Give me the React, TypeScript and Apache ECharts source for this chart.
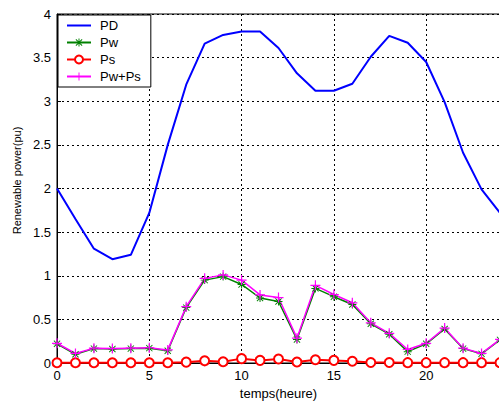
import React, { useEffect, useRef } from "react";
import * as echarts from "echarts";

const hours = [0,1,2,3,4,5,6,7,8,9,10,11,12,13,14,15,16,17,18,19,20,21,22,23,24];
const PD = [2.0,1.65,1.31,1.19,1.24,1.72,2.5,3.19,3.66,3.76,3.8,3.8,3.61,3.32,3.12,3.12,3.2,3.51,3.75,3.67,3.45,2.99,2.41,1.99,1.72];
const Pw = [0.22,0.1,0.165,0.16,0.165,0.17,0.14,0.635,0.95,0.99,0.9,0.745,0.705,0.27,0.855,0.76,0.67,0.45,0.33,0.13,0.22,0.39,0.165,0.105,0.265];
const Ps = [0.003,0.003,0.003,0.003,0.003,0.003,0.003,0.01,0.025,0.015,0.05,0.03,0.046,0.011,0.038,0.03,0.02,0.005,0.005,0.004,0.004,0.004,0.004,0.004,0.004];
const PwPs = [0.226,0.11,0.17,0.165,0.17,0.175,0.15,0.646,0.97,1.01,0.95,0.78,0.75,0.285,0.89,0.785,0.69,0.46,0.34,0.155,0.226,0.4,0.17,0.11,0.27];
const seriesNames = ["PD", "Pw", "Ps", "Pw+Ps"];
const xLabel = "temps(heure)";
const yLabel = "Renewable power(pu)";

const FONT = "'Liberation Sans', Arial, sans-serif";
const plusPath = "path://M4.4,0h1.2v4.4h4.4v1.2h-4.4v4.4h-1.2v-4.4h-4.4v-1.2h4.4z";
const starPath = "path://M4.4,0h1.2v4.4h4.4v1.2h-4.4v4.4h-1.2v-4.4h-4.4v-1.2h4.4zM1.5,0.7L5,4.2L8.5,0.7L9.3,1.5L5.8,5L9.3,8.5L8.5,9.3L5,5.8L1.5,9.3L0.7,8.5L4.2,5L0.7,1.5z";
const lineIcon = "path://M0,0h0.01v0.01h-0.01zM0,3.6h24v1.8h-24zM23.99,8.99h0.01v0.01h-0.01z";

const pair = (ys: number[]) => hours.map((h, i) => [h, ys[i]]);

export default function App() {
  const ref = useRef<HTMLDivElement>(null);
  useEffect(() => {
    document.body.style.margin = "0";
    const chart = echarts.init(ref.current!, null, { renderer: "svg" });
    chart.setOption({
      animation: false,
      backgroundColor: "#fff",
      textStyle: { fontFamily: FONT },
      grid: {
        left: 57, top: 14, right: -1, bottom: 40,
        containLabel: false, outerBoundsMode: "none",
        show: true, borderColor: "#000", borderWidth: 1, backgroundColor: "#fff",
      },
      legend: {
        orient: "vertical",
        left: 58, top: 15,
        padding: [3, 10, 3, 8],
        itemWidth: 24, itemHeight: 10, itemGap: 2,
        backgroundColor: "#fff",
        borderColor: "#000", borderWidth: 1,
        textStyle: { fontSize: 13, color: "#000", fontFamily: FONT, padding: [0, 0, 0, 4], lineHeight: 15 },
        data: [
          { name: seriesNames[0], icon: lineIcon, itemStyle: { color: "#0000ff" } },
          { name: seriesNames[1] },
          { name: seriesNames[2] },
          { name: seriesNames[3] },
        ],
      },
      xAxis: {
        type: "value", min: 0, max: 24, interval: 5,
        name: xLabel, nameLocation: "middle", nameGap: 24,
        nameTextStyle: { fontSize: 13, color: "#000", fontFamily: FONT },
        axisLine: { show: true, lineStyle: { color: "#000", width: 1 } },
        axisTick: { show: true, inside: true, length: 4, lineStyle: { color: "#000" } },
        axisLabel: { fontSize: 13, color: "#000", margin: 6, fontFamily: FONT, showMaxLabel: false },
        splitLine: { show: true, lineStyle: { color: "#000", type: [2, 3], width: 1 } },
      },
      yAxis: {
        type: "value", min: 0, max: 4, interval: 0.5,
        name: yLabel, nameLocation: "middle", nameGap: 32,
        nameTextStyle: { fontSize: 11, color: "#000", fontFamily: FONT, padding: [0, 0, 0, 16] },
        axisLine: { show: true, lineStyle: { color: "#000", width: 1 } },
        axisTick: { show: true, inside: true, length: 4, lineStyle: { color: "#000" } },
        axisLabel: { fontSize: 13, color: "#000", margin: 6, fontFamily: FONT },
        splitLine: { show: true, lineStyle: { color: "#000", type: [2, 3], width: 1 } },
      },
      series: [
        {
          name: seriesNames[0], type: "line", data: pair(PD),
          symbol: "none", lineStyle: { color: "#0000ff", width: 2 },
          itemStyle: { color: "#0000ff" },
        },
        {
          name: seriesNames[1], type: "line", data: pair(Pw),
          symbol: starPath, symbolSize: 8, showAllSymbol: true,
          lineStyle: { color: "#008000", width: 1.5 },
          itemStyle: { color: "#008000" },
        },
        {
          name: seriesNames[2], type: "line", data: pair(Ps),
          symbol: "emptyCircle", symbolSize: 9, showAllSymbol: true,
          lineStyle: { color: "#ff0000", width: 2 },
          itemStyle: { color: "#ff0000", borderColor: "#ff0000", borderWidth: 1.5 },
        },
        {
          name: seriesNames[3], type: "line", data: pair(PwPs),
          symbol: plusPath, symbolSize: 10, showAllSymbol: true,
          lineStyle: { color: "#ff00ff", width: 1.5 },
          itemStyle: { color: "#ff00ff" },
        },
      ],
    });
    return () => chart.dispose();
  }, []);
  return <div ref={ref} style={{ width: 499, height: 403 }} />;
}
